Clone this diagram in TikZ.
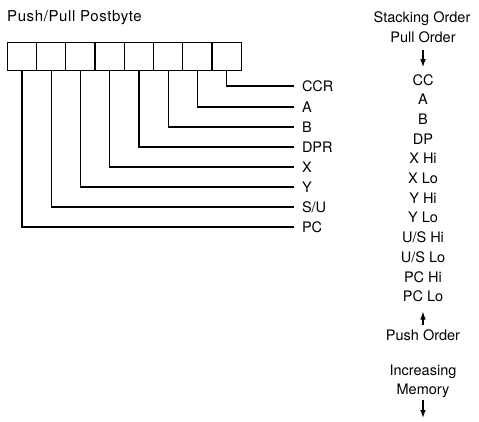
\documentclass[tikz,border=0pt]{standalone}
\usepackage{fontspec}
\setmainfont{TeX Gyre Heros}
\usetikzlibrary{positioning,arrows.meta}

\tikzset{
  cell/.style={draw, line width=1.2pt, minimum width=29.25pt, minimum height=28pt, inner sep=0pt, outer sep=0pt},
  wire/.style={line width=1.2pt},
  reglabel/.style={anchor=west, inner xsep=8pt, inner ysep=0pt, outer sep=0pt, text height=10pt, text depth=0pt},
  stackitem/.style={inner xsep=0pt, inner ysep=4.85pt, outer sep=0pt, text height=10pt, text depth=0pt},
  orderarrow/.style={line width=1.1pt, -{Latex[length=8pt,width=5.5pt]}}
}

\begin{document}
\begin{tikzpicture}[x=1pt, y=-1pt, font=\fontsize{14.5}{17}\selectfont]
  \useasboundingbox (0,0) rectangle (479,421);

  % postbyte
  \node[anchor=west, inner sep=0pt, text height=10pt, text depth=0pt,
        font=\fontsize{15}{18}\selectfont\addfontfeature{LetterSpace=4}] (title) at (7,16) {Push/Pull Postbyte};
  \node[cell] (c1) at (21.9,56.7) {};
  \node[cell] (c2) at (51.2,56.7) {};
  \node[cell] (c3) at (80.4,56.7) {};
  \node[cell] (c4) at (109.7,56.7) {};
  \node[cell] (c5) at (138.9,56.7) {};
  \node[cell] (c6) at (168.2,56.7) {};
  \node[cell] (c7) at (197.4,56.7) {};
  \node[cell] (c8) at (226.7,56.7) {};

  % register names
  \node[reglabel] (ccr) at (294,86) {CCR};
  \node[reglabel] (ra) at (294,107) {A};
  \node[reglabel] (rb) at (294,127) {B};
  \node[reglabel] (dpr) at (294,147) {DPR};
  \node[reglabel] (rx) at (294,167) {X};
  \node[reglabel] (ry) at (294,187) {Y};
  \node[reglabel] (su) at (294,207) {S/U};
  \node[reglabel] (pc) at (294,227) {PC};

  \draw[wire] (c8.south) |- (ccr.west);
  \draw[wire] (c7.south) |- (ra.west);
  \draw[wire] (c6.south) |- (rb.west);
  \draw[wire] (c5.south) |- (dpr.west);
  \draw[wire] (c4.south) |- (rx.west);
  \draw[wire] (c3.south) |- (ry.west);
  \draw[wire] (c2.south) |- (su.west);
  \draw[wire] (c1.south) |- (pc.west);

  % stacking order
  \node[stackitem] (stacking) at (422,17) {Stacking Order};
  \node[stackitem] (pullorder) at (423,37) {Pull Order};
  \node[stackitem] (scc) at (423,80) {CC};
  \node[stackitem, below=0pt of scc] (sa) {A};
  \node[stackitem, below=0pt of sa] (sb) {B};
  \node[stackitem, below=0pt of sb] (sdp) {DP};
  \node[stackitem, below=0pt of sdp] (xhi) {X Hi};
  \node[stackitem, below=0pt of xhi] (xlo) {X Lo};
  \node[stackitem, below=0pt of xlo] (yhi) {Y Hi};
  \node[stackitem, below=0pt of yhi] (ylo) {Y Lo};
  \node[stackitem, below=0pt of ylo] (ushi) {U/S Hi};
  \node[stackitem, below=0pt of ushi] (uslo) {U/S Lo};
  \node[stackitem, below=0pt of uslo] (pchi) {PC Hi};
  \node[stackitem, below=0pt of pchi] (pclo) {PC Lo};
  \node[stackitem] (pushorder) at (423,335) {Push Order};
  \node[stackitem] (increasing) at (423,370) {Increasing};
  \node[stackitem, below=0pt of increasing] (memory) {Memory};
  \coordinate (memend) at (423,418);

  \draw[orderarrow, shorten <=3pt, shorten >=3pt] (pullorder) -- (scc);
  \draw[orderarrow, shorten >=5pt] (pushorder) -- (pclo);
  \draw[orderarrow] (memory) -- (memend);
\end{tikzpicture}
\end{document}
